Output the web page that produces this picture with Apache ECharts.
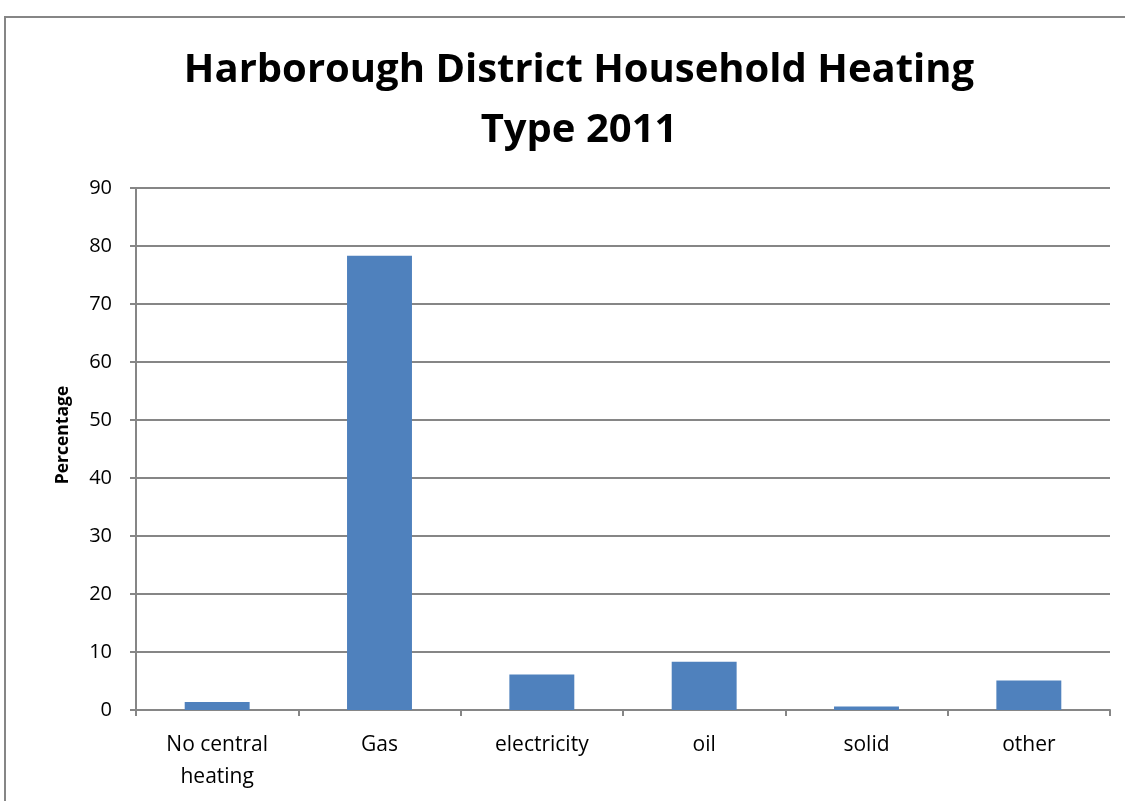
<!DOCTYPE html>
<html>
<head>
<meta charset="utf-8">
<script src="https://cdn.jsdelivr.net/npm/echarts@6/dist/echarts.min.js"></script>
<style>
  html, body { margin: 0; padding: 0; background: #fff; }
  #chart { width: 1125px; height: 801px; }
</style>
</head>
<body>
<div id="chart"></div>
<script>
  // heating type categories and share of households (%)
  var categories = ['No central\nheating', 'Gas', 'electricity', 'oil', 'solid', 'other'];
  var percentages = [1.4, 78.3, 6.1, 8.3, 0.6, 5.1];

  var chart = echarts.init(document.getElementById('chart'));
  var font = 'Open Sans, sans-serif';
  var option = {
    animation: false,
    title: {
      text: 'Harborough District Household Heating\nType 2011',
      left: 574,
      top: 36,
      textAlign: 'center',
      textStyle: {
        fontFamily: font,
        fontWeight: 'bold',
        fontSize: 40,
        lineHeight: 60,
        color: '#000'
      }
    },
    graphic: [{
      type: 'rect',
      shape: { x: 5, y: 17, width: 1130, height: 800 },
      style: { fill: 'none', stroke: '#868686', lineWidth: 2 }
    }, {
      type: 'text',
      x: 63,
      y: 435,
      rotation: Math.PI / 2,
      style: {
        text: 'Percentage',
        font: 'bold 17.5px Open Sans, sans-serif',
        fill: '#000',
        align: 'center',
        verticalAlign: 'middle'
      }
    }],
    grid: { left: 136, right: 15, top: 188, bottom: 91 },
    xAxis: {
      type: 'category',
      data: categories,
      axisLine: { lineStyle: { color: '#868686', width: 2 } },
      axisTick: { show: true, length: 6, lineStyle: { color: '#868686', width: 2 } },
      axisLabel: {
        fontFamily: font, fontSize: 21, color: '#000', margin: 19, lineHeight: 32
      }
    },
    yAxis: {
      type: 'value',
      min: 0,
      max: 90,
      interval: 10,
      axisLine: { show: true, lineStyle: { color: '#868686', width: 2 } },
      axisTick: { show: true, length: 6, lineStyle: { color: '#868686', width: 2 } },
      axisLabel: { fontFamily: font, fontSize: 20, color: '#000', margin: 24 },
      splitLine: { lineStyle: { color: '#868686', width: 2 } }
    },
    series: [{
      type: 'bar',
      data: percentages,
      barWidth: '40%',
      itemStyle: { color: '#4F81BD' }
    }]
  };
  chart.setOption(option);
</script>
</body>
</html>
